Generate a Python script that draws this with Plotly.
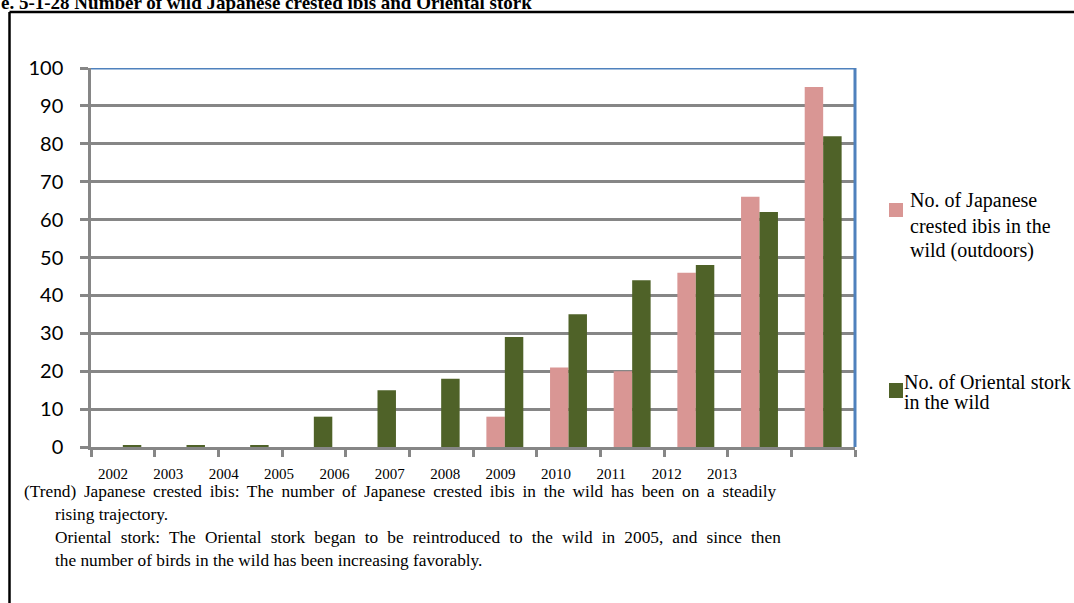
import plotly.graph_objects as go

# ---- data ----
years = ["2002", "2003", "2004", "2005", "2006", "2007",
         "2008", "2009", "2010", "2011", "2012", "2013"]
year_nums = [2002, 2003, 2004, 2005, 2006, 2007,
             2008, 2009, 2010, 2011, 2012, 2013]
ibis = [0, 0, 0, 0, 0, 0, 8, 21, 20, 46, 66, 95]
stork = [0.4, 0.4, 0.4, 8, 15, 18, 29, 35, 44, 48, 62, 82]
ibis_lines = ["No. of Japanese", "crested ibis in the", "wild (outdoors)"]
stork_lines = ["No. of Oriental stork", "in the wild"]
title_text = "e. 5-1-28 Number of wild Japanese crested ibis and Oriental stork"
trend_lines = [
    "(Trend) Japanese crested ibis: The number of Japanese crested ibis in the wild has been on a steadily",
    "rising trajectory.",
    "Oriental stork: The Oriental stork began to be reintroduced to the wild in 2005, and since then",
    "the number of birds in the wild has been increasing favorably.",
]

# ---- styling ----
W, H = 1074, 603
PINK = "#D99694"
GREEN = "#4F6228"
GRID = "#868686"
BLUE = "#4F81BD"
SERIF = "Liberation Serif"


def px(x):
    return x / W


def py(y):
    return 1 - y / H


fig = go.Figure()
fig.add_bar(x=years, y=ibis, marker_color=PINK, marker_line_width=0,
            name=" ".join(ibis_lines), showlegend=False)
fig.add_bar(x=years, y=stork, marker_color=GREEN, marker_line_width=0,
            name=" ".join(stork_lines), showlegend=False)
# carrier trace for the label axis
fig.add_scatter(x=year_nums, y=[None] * len(year_nums), xaxis="x2", yaxis="y",
                mode="markers", showlegend=False, hoverinfo="skip")

fig.update_layout(
    width=W, height=H,
    margin=dict(l=0, r=0, t=0, b=0),
    paper_bgcolor="white", plot_bgcolor="white",
    barmode="group", bargap=0.42, bargroupgap=0,
    xaxis=dict(
        domain=[px(91), px(855)], type="category",
        showline=True, linecolor=GRID, linewidth=2.5,
        ticks="outside", tickson="boundaries", ticklen=7, tickwidth=2.5, tickcolor=GRID,
        showticklabels=False, showgrid=False, zeroline=False, automargin=False,
    ),
    xaxis2=dict(
        overlaying="x", anchor="y", side="bottom",
        range=[2001.603, 2015.402],
        tickmode="array", tickvals=year_nums, ticktext=years,
        tickfont=dict(family=SERIF, size=15, color="black"),
        ticks="outside", ticklen=13, tickcolor="rgba(0,0,0,0)",
        showgrid=False, showline=False, zeroline=False, automargin=False,
    ),
    yaxis=dict(
        domain=[py(447), py(68)], range=[0, 100], dtick=10, tick0=0,
        showgrid=True, gridcolor=GRID, gridwidth=2.5,
        showline=True, linecolor=GRID, linewidth=2.5,
        ticks="outside", ticklen=8, tickwidth=2.5, tickcolor=GRID,
        tickfont=dict(family="Lato", size=20, color="black"),
        ticklabelstandoff=13,
        zeroline=False, automargin=False,
    ),
)

shapes = [
    # blue plot-area border (top and right)
    dict(type="line", xref="x domain", yref="y", x0=0, x1=1, y0=100, y1=100,
         line=dict(color=BLUE, width=3)),
    dict(type="line", xref="x domain", yref="y domain", x0=1, x1=1, y0=0, y1=1,
         line=dict(color=BLUE, width=3)),
    # outer black frame
    dict(type="line", xref="paper", yref="paper", x0=px(9.5), x1=px(W + 10),
         y0=py(12), y1=py(12), line=dict(color="black", width=2.5)),
    dict(type="line", xref="paper", yref="paper", x0=px(9.5), x1=px(9.5),
         y0=py(12), y1=py(H + 10), line=dict(color="black", width=2.5)),
    # legend swatches
    dict(type="rect", xref="paper", yref="paper", x0=px(889), x1=px(903),
         y0=py(217), y1=py(203), fillcolor=PINK, line=dict(width=0)),
    dict(type="rect", xref="paper", yref="paper", x0=px(889), x1=px(903),
         y0=py(398), y1=py(383), fillcolor=GREEN, line=dict(width=0)),
]
fig.update_layout(shapes=shapes)

ann = []
ann.append(dict(text=title_text, xref="paper", yref="paper", x=px(-1), y=py(15),
                xanchor="left", yanchor="bottom", showarrow=False,
                font=dict(family=SERIF, size=19, color="black", weight="bold")))
for i, t in enumerate(ibis_lines):
    ann.append(dict(text=t, xref="paper", yref="paper", x=px(908), y=py(201 + 24.5 * i),
                    xanchor="left", yanchor="middle", showarrow=False,
                    font=dict(family=SERIF, size=20, color="black")))
for i, t in enumerate(stork_lines):
    ann.append(dict(text=t, xref="paper", yref="paper", x=px(902), y=py(382 + 20 * i),
                    xanchor="left", yanchor="middle", showarrow=False,
                    font=dict(family=SERIF, size=20, color="black")))
trend_x = [22, 53, 53, 53]
trend_y = [492, 514, 537, 560]
trend_wordspacing = [3.4, 0, 4.8, 0]   # justified lines in the source
for t, xx, yy, ws in zip(trend_lines, trend_x, trend_y, trend_wordspacing):
    txt = t if ws == 0 else '<span style="word-spacing:%.1fpx">%s</span>' % (ws, t)
    ann.append(dict(text=txt, xref="paper", yref="paper", x=px(xx), y=py(yy),
                    xanchor="left", yanchor="middle", showarrow=False,
                    font=dict(family=SERIF, size=17.3, color="black")))
fig.update_layout(annotations=ann)

fig.write_html("out.html", include_plotlyjs=True,
               config={"displayModeBar": False},
               post_script="document.body.style.margin='0';")
